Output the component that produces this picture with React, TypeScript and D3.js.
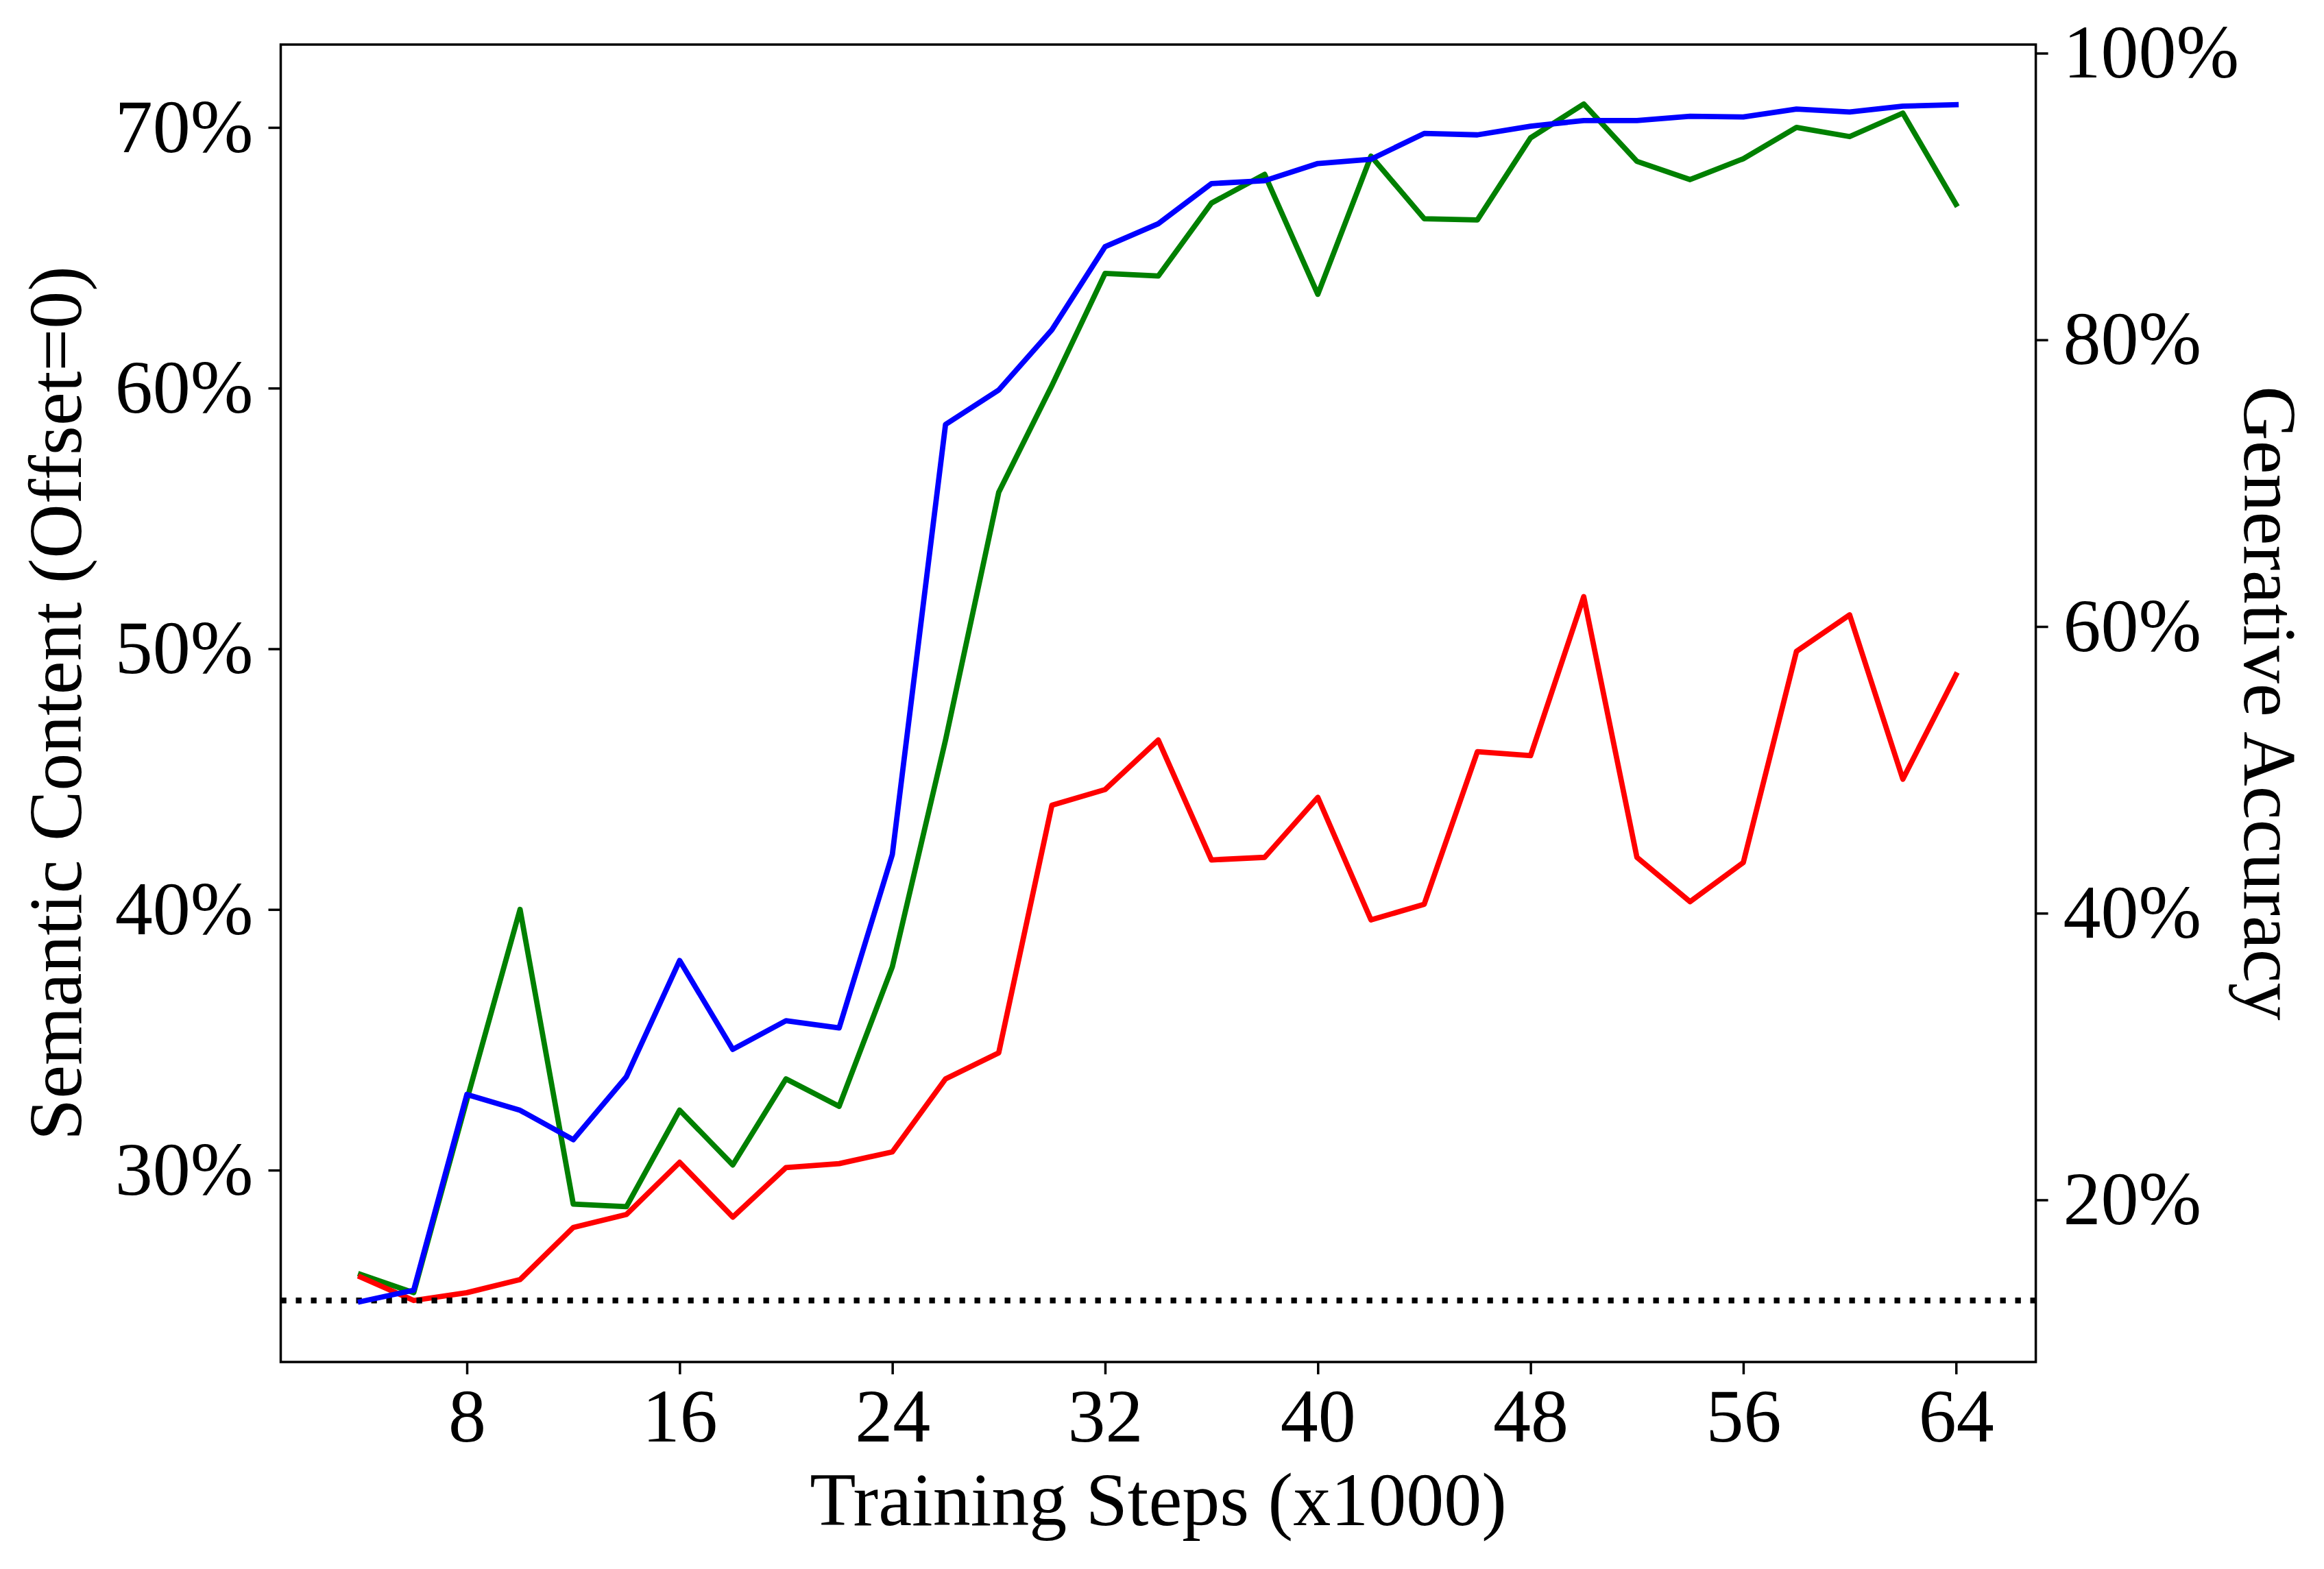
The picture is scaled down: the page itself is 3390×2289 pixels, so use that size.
import React, { useEffect, useRef } from "react";
import * as d3 from "d3";

// training steps (x1000)
const steps = [4, 6, 8, 10, 12, 14, 16, 18, 20, 22, 24, 26, 28, 30, 32, 34, 36, 38, 40, 42, 44, 46, 48, 50, 52, 54, 56, 58, 60, 62, 64];

// left axis: semantic content (%)
const greenSeries = [26.0, 25.3, 32.7, 40.0, 28.7, 28.6, 32.3, 30.2, 33.5, 32.45, 37.8, 46.5, 56.0, 60.1, 64.4, 64.3, 67.1, 68.2, 63.6, 68.9, 66.5, 66.45, 69.6, 70.9, 68.7, 68.0, 68.8, 70.0, 69.65, 70.55, 67.05];
const redSeries = [25.9, 25.0, 25.3, 25.8, 27.8, 28.3, 30.3, 28.2, 30.1, 30.25, 30.7, 33.5, 34.5, 44.0, 44.6, 46.5, 41.9, 42.0, 44.3, 39.6, 40.2, 46.05, 45.9, 52.0, 42.0, 40.3, 41.8, 49.9, 51.3, 45.0, 49.0];

// right axis: generative accuracy (%)
const blueSeries = [12.9, 13.7, 27.35, 26.25, 24.2, 28.6, 36.7, 30.5, 32.5, 32.0, 44.1, 74.1, 76.5, 80.7, 86.5, 88.1, 90.9, 91.1, 92.3, 92.6, 94.4, 94.3, 94.9, 95.3, 95.3, 95.6, 95.55, 96.1, 95.9, 96.3, 96.4];

const chanceLevel = 25;

const xTicks = [8, 16, 24, 32, 40, 48, 56, 64];
const leftTicks = [30, 40, 50, 60, 70];
const rightTicks = [20, 40, 60, 80, 100];

const W = 3390;
const H = 2289;
const left = 409.5;
const right = 2969.6;
const top = 65;
const bottom = 1987;
const font = "'Liberation Serif', 'Times New Roman', serif";
const fontSize = 110;

export default function App() {
    const svgRef = useRef<SVGSVGElement>(null);

    useEffect(() => {
        const svg = d3.select(svgRef.current);
        svg.selectAll("*").remove();

        const x = d3.scaleLinear().domain([1, 67]).range([left, right]);
        const yL = d3.scaleLinear().domain([22.64, 73.18]).range([bottom, top]);
        const yR = d3.scaleLinear().domain([8.69, 100.6]).range([bottom, top]);

        svg.append("rect").attr("width", W).attr("height", H).attr("fill", "white");

        const lineL = d3.line<number>()
            .x((d, i) => x(steps[i]))
            .y(d => yL(d));
        const lineR = d3.line<number>()
            .x((d, i) => x(steps[i]))
            .y(d => yR(d));

        const plot = svg.append("g");
        const drawLine = (data: number[], gen: d3.Line<number>, color: string) => {
            plot.append("path")
                .attr("d", gen(data))
                .attr("fill", "none")
                .attr("stroke", color)
                .attr("stroke-width", 7.8)
                .attr("stroke-linejoin", "round")
                .attr("stroke-linecap", "square");
        };
        drawLine(greenSeries, lineL, "#008000");
        drawLine(redSeries, lineL, "#ff0000");

        plot.append("line")
            .attr("x1", left).attr("x2", right)
            .attr("y1", yL(chanceLevel)).attr("y2", yL(chanceLevel))
            .attr("stroke", "black")
            .attr("stroke-width", 8.3)
            .attr("stroke-dasharray", "8.3 13.7");

        drawLine(blueSeries, lineR, "#0000ff");

        // frame
        svg.append("rect")
            .attr("x", left).attr("y", top)
            .attr("width", right - left).attr("height", bottom - top)
            .attr("fill", "none").attr("stroke", "black").attr("stroke-width", 3.5);

        const styleAxis = (g: d3.Selection<SVGGElement, unknown, null, undefined>) => {
            g.select(".domain").remove();
            g.selectAll("line").attr("stroke", "black").attr("stroke-width", 3.5);
            g.selectAll("text")
                .attr("fill", "black")
                .style("font-family", font)
                .style("font-size", `${fontSize}px`);
        };

        svg.append("g")
            .attr("transform", `translate(0,${bottom})`)
            .call(d3.axisBottom(x).tickValues(xTicks).tickFormat(d => `${d}`).tickSize(18).tickPadding(20))
            .call(styleAxis);
        svg.append("g")
            .attr("transform", `translate(${left},0)`)
            .call(d3.axisLeft(yL).tickValues(leftTicks).tickFormat(d => `${d}%`).tickSize(18).tickPadding(22))
            .call(styleAxis);
        svg.append("g")
            .attr("transform", `translate(${right},0)`)
            .call(d3.axisRight(yR).tickValues(rightTicks).tickFormat(d => `${d}%`).tickSize(18).tickPadding(22))
            .call(styleAxis);

        const label = (tx: number, ty: number, rot: number, text: string) => {
            svg.append("text")
                .attr("transform", `translate(${tx},${ty}) rotate(${rot})`)
                .attr("text-anchor", "middle")
                .attr("fill", "black")
                .style("font-family", font)
                .style("font-size", `${fontSize}px`)
                .text(text);
        };
        label((left + right) / 2, 2225, 0, "Training Steps (x1000)");
        label(118, (top + bottom) / 2, -90, "Semantic Content (Offset=0)");
        label(3274, (top + bottom) / 2, 90, "Generative Accuracy");
    }, []);

    return (
        <svg
            ref={svgRef}
            width={W}
            height={H}
            viewBox={`0 0 ${W} ${H}`}
            style={{ position: "absolute", left: 0, top: 0, background: "white" }}
        />
    );
}
